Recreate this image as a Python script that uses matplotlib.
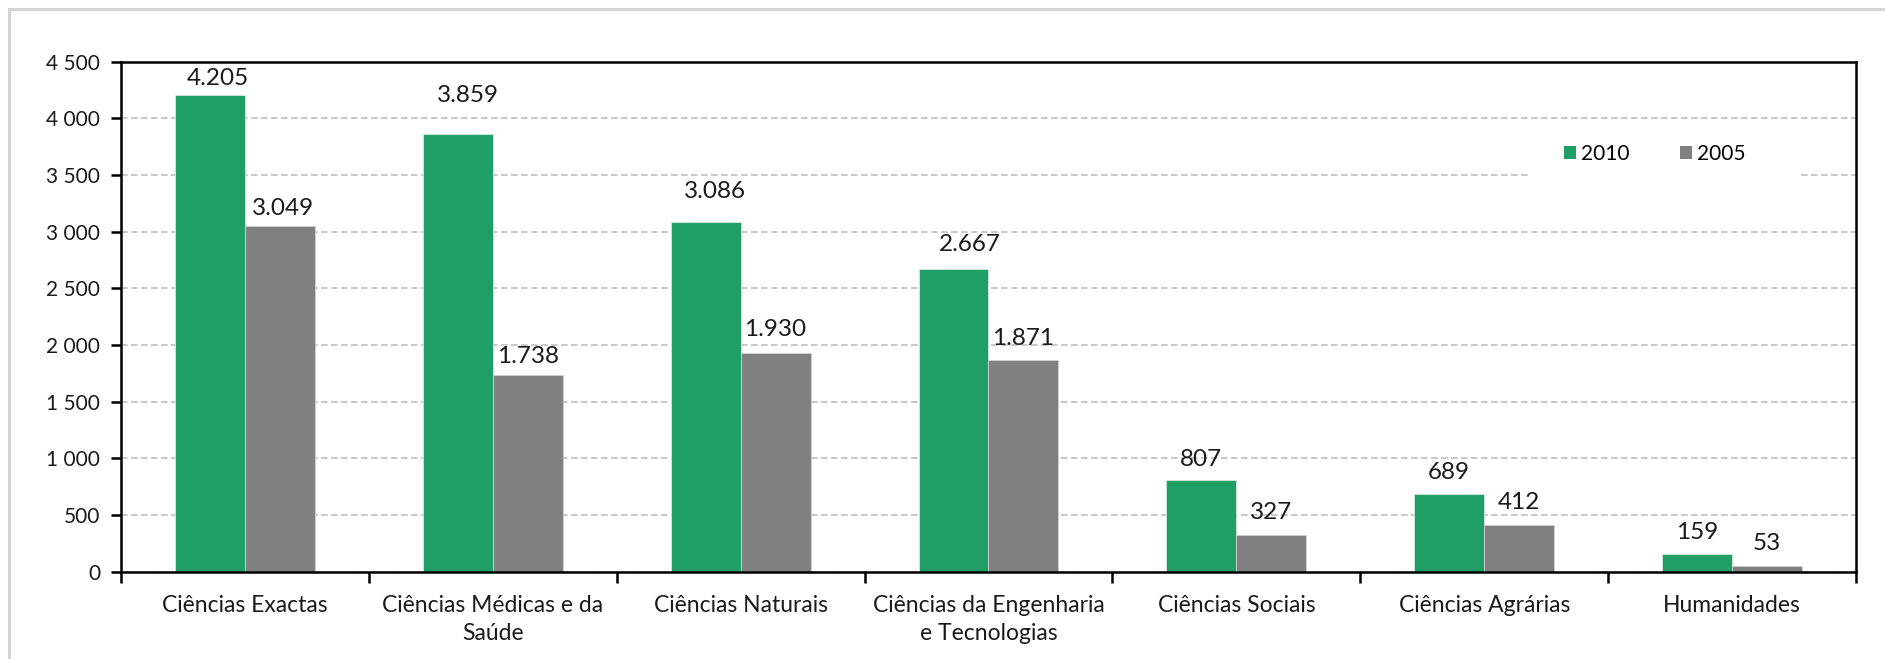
import numpy as np
import matplotlib
matplotlib.use("Agg")
import matplotlib.pyplot as plt
from matplotlib.patches import Patch, Rectangle
from matplotlib.lines import Line2D

plt.rcParams['font.family'] = ['Lato', 'DejaVu Sans']

categories = ['Ciências Exactas', 'Ciências Médicas e da\nSaúde',
              'Ciências Naturais', 'Ciências da Engenharia\ne Tecnologias',
              'Ciências Sociais', 'Ciências Agrárias', 'Humanidades']
v2010 = [4205, 3859, 3086, 2667, 807, 689, 159]
v2005 = [3049, 1738, 1930, 1871, 327, 412, 53]
series_names = ['2010', '2005']
yticks = [0, 500, 1000, 1500, 2000, 2500, 3000, 3500, 4000, 4500]
ytick_labels = ['0', '500', '1 000', '1 500', '2 000', '2 500', '3 000',
                '3 500', '4 000', '4 500']

green = '#1f9e66'
grey = '#808080'

# label nudges (points) to mimic manual placement in the original
nudge_2010 = [(6, 12), (7, 28), (7, 22), (12, 18), (0, 15), (0, 15), (0, 15)]
nudge_2005 = [(2, 13), (0, 13), (0, 17), (0, 15), (0, 16), (0, 16), (0, 16)]

fig = plt.figure(figsize=(18.85, 6.59), dpi=100)
ax = fig.add_axes([0.0642, 0.1325, 0.9204, 0.7739])

x = np.arange(len(categories))
w = 0.282
b1 = ax.bar(x - w / 2, v2010, w, color=green, edgecolor='#d8e8df',
            linewidth=0.6, zorder=2)
b2 = ax.bar(x + w / 2, v2005, w, color=grey, edgecolor='#d0d0d0',
            linewidth=0.6, zorder=2)

for bars, vals, nudges in [(b1, v2010, nudge_2010), (b2, v2005, nudge_2005)]:
    for r, v, (dx, dy) in zip(bars, vals, nudges):
        txt = f'{v:,}'.replace(',', '.')
        ax.annotate(txt, (r.get_x() + r.get_width() / 2, r.get_height()),
                    xytext=(dx, dy), textcoords='offset points',
                    ha='center', va='center', fontsize=17.5, color='#1a1a1a')

ax.set_xlim(-0.5, len(categories) - 0.5)
ax.set_ylim(0, 4500)
ax.set_yticks(yticks)
ax.set_yticklabels(ytick_labels)
ax.yaxis.grid(True, color='#bfbfbf', linestyle=(0, (4, 2)), linewidth=1.2)
ax.set_axisbelow(True)

# category boundaries get the tick marks, names sit between them
ax.set_xticks(np.arange(len(categories) + 1) - 0.5)
ax.set_xticklabels([])
ax.set_xticks(x, minor=True)
ax.set_xticklabels(categories, minor=True, fontsize=16.5, linespacing=1.4,
                   color='#1a1a1a')
ax.tick_params(axis='x', which='major', length=8, width=1.8, direction='out')
ax.tick_params(axis='x', which='minor', length=0, pad=17)
ax.tick_params(axis='y', length=7, width=1.8, direction='out', pad=8,
               labelsize=15, labelcolor='#1a1a1a')

for s in ax.spines.values():
    s.set_linewidth(1.8)
    s.set_color('black')

# white box behind legend hiding the grid
ax.add_patch(Rectangle((0.8118, 0.77), 0.1545, 0.085, transform=ax.transAxes,
                       facecolor='white', edgecolor='none', zorder=1.5))
handles = [Patch(facecolor=green), Patch(facecolor=grey)]
ax.legend(handles, series_names, loc='center', bbox_to_anchor=(0.884, 0.819),
          ncol=2, frameon=False, fontsize=15, handlelength=0.58,
          handleheight=0.58, handletextpad=0.25, columnspacing=2.4)

# light frame of the chart area
fig.add_artist(Line2D([0.0048, 0.0048], [0, 0.986], color='#d0d0d0', lw=2))
fig.add_artist(Line2D([0.0048, 1], [0.986, 0.986], color='#d0d0d0', lw=2))

fig.savefig('out.png', dpi=100)
